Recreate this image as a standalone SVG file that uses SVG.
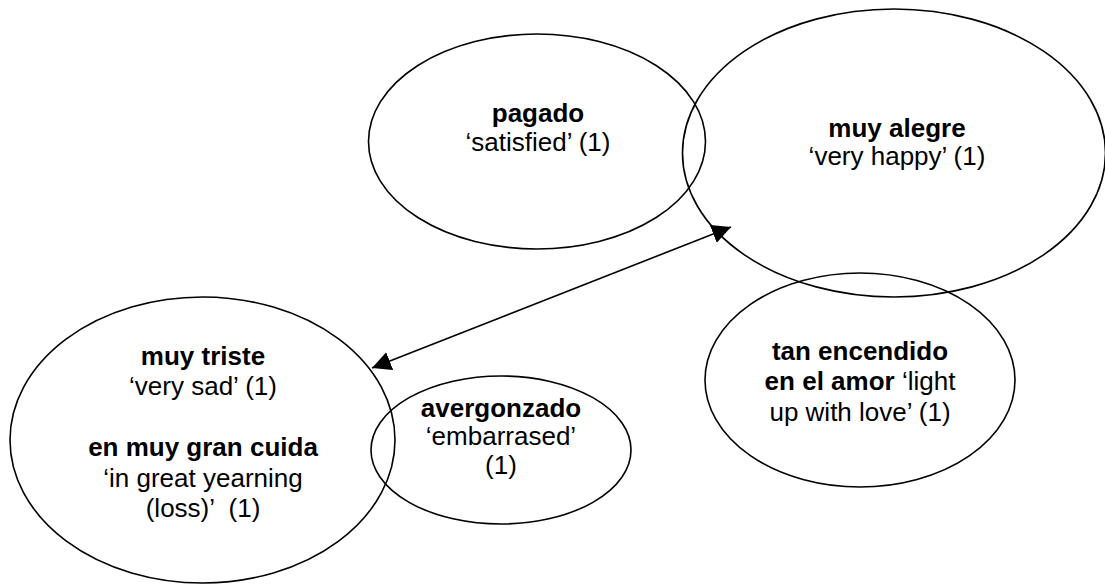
<svg xmlns="http://www.w3.org/2000/svg" width="1105" height="586" viewBox="0 0 1105 586">
<style>
.n{fill:none;stroke:#000;stroke-width:1.6}
text{font-family:"Liberation Sans",Arial,sans-serif;font-size:26px;fill:#000;text-anchor:middle}
.b{font-weight:bold}
.c{stroke:#000;stroke-width:1.6;fill:none}
</style>
<defs>
<marker id="ah" viewBox="0 0 19 19" refX="19" refY="9.5" markerWidth="19" markerHeight="19" markerUnits="userSpaceOnUse" orient="auto-start-reverse">
<path d="M0,0 L19,9.5 L0,19 Z" fill="#000"/>
</marker>
</defs>
<rect width="1105" height="586" fill="#fff"/>
<g id="connectors">
<line class="c" x1="372" y1="368" x2="731" y2="227" marker-start="url(#ah)" marker-end="url(#ah)"/>
</g>
<g id="pagado">
<ellipse class="n" cx="537" cy="141.5" rx="168.5" ry="107.5"/>
<text x="538" y="122" class="b">pagado</text>
<text x="538" y="151">‘satisfied’ (1)</text>
</g>
<g id="muy-alegre">
<ellipse class="n" cx="894" cy="153" rx="211.5" ry="144"/>
<text x="897" y="137" class="b">muy alegre</text>
<text x="897" y="165">‘very happy’ (1)</text>
</g>
<g id="tan-encendido">
<ellipse class="n" cx="860" cy="380" rx="155" ry="107"/>
<text x="860" y="360" class="b">tan encendido</text>
<text x="860" y="390"><tspan class="b">en el amor</tspan> ‘light</text>
<text x="860" y="421">up with love’ (1)</text>
</g>
<g id="muy-triste">
<ellipse class="n" cx="202.5" cy="440" rx="192.5" ry="143"/>
<text x="203" y="365" class="b">muy triste</text>
<text x="203" y="395">‘very sad’ (1)</text>
<text x="203" y="456" class="b">en muy gran cuida</text>
<text x="203" y="487">‘in great yearning</text>
<text x="203" y="517" xml:space="preserve">(loss)’  (1)</text>
</g>
<g id="avergonzado">
<ellipse class="n" cx="501" cy="450" rx="130" ry="74"/>
<text x="501" y="417" class="b">avergonzado</text>
<text x="501" y="445">‘embarrased’</text>
<text x="501" y="474">(1)</text>
</g>
</svg>
